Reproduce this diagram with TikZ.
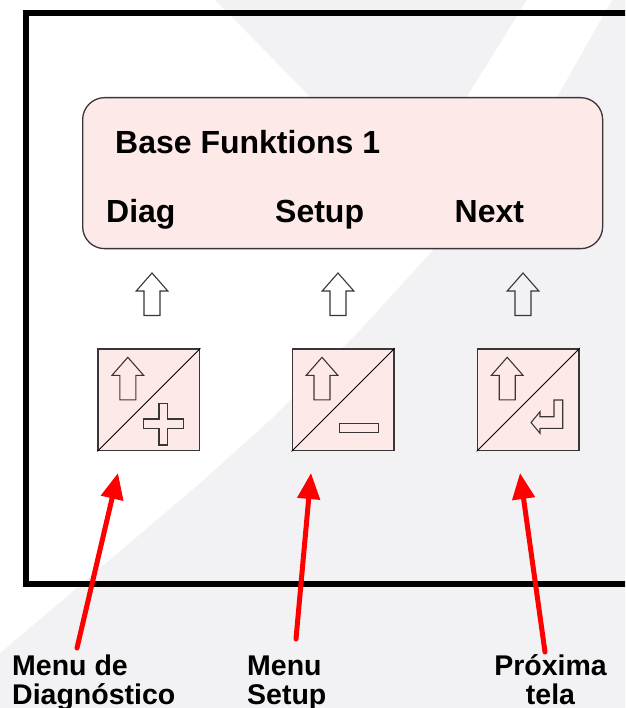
\documentclass[tikz,border=0pt]{standalone}
\usepackage{fontspec}
\setmainfont{Liberation Sans}
\usetikzlibrary{arrows.meta}
\definecolor{bggray}{RGB}{242,242,245}
\definecolor{lcdpink}{RGB}{253,234,232}
\definecolor{glyphgray}{RGB}{55,55,55}
\definecolor{arrowred}{RGB}{255,0,0}
\tikzset{
  frameline/.style={line width=6pt, black},
  lcd/.style={draw=glyphgray, fill=lcdpink, line width=1.3pt, rounded corners=22pt},
  lcdtext/.style={font=\bfseries\fontsize{32}{38}\selectfont, inner sep=0pt, anchor=base west},
  keybox/.style={draw=glyphgray, fill=lcdpink, line width=1.4pt, minimum size=101.7pt, inner sep=0pt, anchor=north west},
  keydiag/.style={draw=black, line width=0.9pt},
  glyph/.style={draw=glyphgray, line width=1.1pt, line join=miter},
  redarrow/.style={draw=arrowred, line width=5pt, line cap=round, -{Triangle[length=26pt, width=22pt]}},
  lbl/.style={font=\bfseries\fontsize{28.5}{29}\selectfont, inner sep=0pt},
  uparrow/.pic={\draw[glyph] (0,0) -- (15.8,18) -- (8,18) -- (8,42.5) -- (-8,42.5) -- (-8,18) -- (-15.8,18) -- cycle;}
}
\begin{document}
\begin{tikzpicture}[x=1pt,y=-1pt]
\useasboundingbox (0,0) rectangle (625,708);
\begin{scope}
  \clip (0,0) rectangle (625,708);
  \fill[bggray] (0,0) rectangle (625,708);
  \fill[white] (0,0) -- (215,0) -- (406,195) -- (527,0) -- (612,0) -- (557,97) -- (433,250)
     -- (360,330) -- (270,420) -- (200,483) -- (0,653) -- cycle;
  \draw[frameline] (660,13) -- (26,13) -- (26,583.5) -- (660,583.5);
\end{scope}

% display
\node[lcd, anchor=north west, minimum width=520pt, minimum height=151pt] (lcd) at (82,97) {};
\node[lcdtext] (title) at (115,154) {Base Funktions 1};
\node[lcdtext] (sdiag) at (106,223) {Diag};
\node[lcdtext] (ssetup) at (275,223) {Setup};
\node[lcdtext] (snext) at (454.5,223) {Next};

% soft-key arrows
\pic (a1) at (152,273) {uparrow};
\pic (a2) at (338,273) {uparrow};
\pic (a3) at (523,273) {uparrow};

% keys
\node[keybox] (k1) at (97.3,348.3) {};
\node[keybox] (k2) at (291.5,348.3) {};
\node[keybox] (k3) at (476.7,348.3) {};
\draw[keydiag] (k1.south west) -- (k1.north east);
\draw[keydiag] (k2.south west) -- (k2.north east);
\draw[keydiag] (k3.south west) -- (k3.north east);

\begin{scope}[shift={(k1.north west)}]
  \pic (k1u) at (30.5,9) {uparrow};
  \draw[glyph] (61.7,55) -- (70.4,55) -- (70.4,70.7) -- (86,70.7) -- (86,80) -- (70.4,80)
     -- (70.4,96.7) -- (61.7,96.7) -- (61.7,80) -- (46,80) -- (46,70.7) -- (61.7,70.7) -- cycle;
\end{scope}
\begin{scope}[shift={(k2.north west)}]
  \pic (k2u) at (30.5,9) {uparrow};
  \draw[glyph] (47.6,75) rectangle (86.6,84);
\end{scope}
\begin{scope}[shift={(k3.north west)}]
  \pic (k3u) at (30.5,9) {uparrow};
  \draw[glyph] (77.3,51.7) -- (86,51.7) -- (86,80) -- (63.3,80) -- (63.3,85) -- (54.3,74.2)
     -- (63.3,63.4) -- (63.3,68.4) -- (77.3,68.4) -- cycle;
\end{scope}

% callouts
\coordinate (s1) at (77,648);  \coordinate (e1) at (118,473);
\coordinate (s2) at (296,639); \coordinate (e2) at (311,473);
\coordinate (s3) at (545,652); \coordinate (e3) at (520,473);
\draw[redarrow] (s1) -- (e1);
\draw[redarrow] (s2) -- (e2);
\draw[redarrow] (s3) -- (e3);

\node[lbl, align=left, anchor=north west] (l1) at (12,648) {\rule{0pt}{27pt}Menu de\\Diagnóstico};
\node[lbl, align=left, anchor=north west] (l2) at (247,648) {\rule{0pt}{27pt}Menu\\Setup};
\node[lbl, align=center, anchor=north] (l3) at (550.5,648) {\rule{0pt}{27pt}Próxima\\tela};
\end{tikzpicture}
\end{document}
